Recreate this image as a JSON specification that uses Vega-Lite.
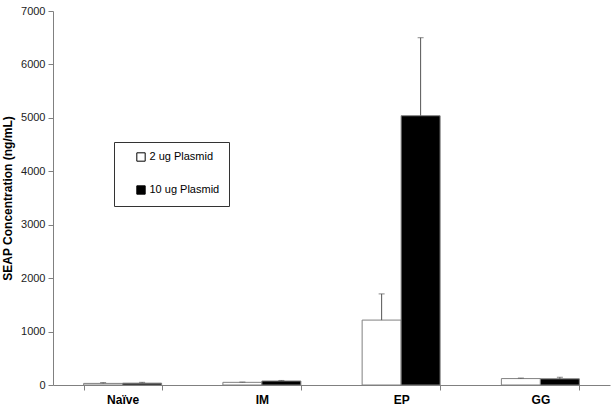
{
  "$schema": "https://vega.github.io/schema/vega-lite/v6.json",
  "autosize": "none",
  "padding": {"left": 53, "top": 11, "right": 4, "bottom": 27},
  "width": 557,
  "height": 374,
  "background": "white",
  "config": {
    "font": "Liberation Sans",
    "view": {"stroke": null},
    "axis": {"domainColor": "#808080", "tickColor": "#808080", "grid": false}
  },
  "data": {
    "values": [
      {"group": "Naïve", "dose": "2 ug Plasmid", "value": 30, "err": 15},
      {"group": "Naïve", "dose": "10 ug Plasmid", "value": 35, "err": 15},
      {"group": "IM", "dose": "2 ug Plasmid", "value": 50, "err": 5},
      {"group": "IM", "dose": "10 ug Plasmid", "value": 75, "err": 10},
      {"group": "EP", "dose": "2 ug Plasmid", "value": 1215, "err": 490},
      {"group": "EP", "dose": "10 ug Plasmid", "value": 5040, "err": 1460},
      {"group": "GG", "dose": "2 ug Plasmid", "value": 120, "err": 10},
      {"group": "GG", "dose": "10 ug Plasmid", "value": 115, "err": 30}
    ]
  },
  "transform": [{"calculate": "datum.value + datum.err", "as": "hi"}],
  "encoding": {
    "x": {
      "field": "group", "type": "nominal", "sort": ["Naïve", "IM", "EP", "GG"],
      "scale": {"paddingInner": 0.44, "paddingOuter": 0.22},
      "axis": {"title": null, "labelAngle": 0, "labelFontWeight": "bold", "labelFontSize": 12, "labelColor": "#000", "tickBand": "extent", "tickSize": 5, "labelPadding": 4}
    },
    "xOffset": {"field": "dose", "type": "nominal", "sort": ["2 ug Plasmid", "10 ug Plasmid"], "scale": {"paddingInner": 0, "paddingOuter": 0}}
  },
  "layer": [
    {
      "mark": {"type": "bar", "stroke": "#808080", "strokeWidth": 1},
      "encoding": {
        "y": {
          "field": "value", "type": "quantitative",
          "scale": {"domain": [0, 7000], "nice": false},
          "axis": {"title": "SEAP Concentration (ng/mL)", "titleFontWeight": "bold", "titleFontSize": 12, "titleColor": "#000", "titlePadding": 6, "values": [0, 1000, 2000, 3000, 4000, 5000, 6000, 7000], "format": "d", "labelFontSize": 11, "labelColor": "#222", "tickSize": 5, "labelPadding": 3}
        },
        "fill": {
          "field": "dose", "type": "nominal", "sort": ["2 ug Plasmid", "10 ug Plasmid"],
          "scale": {"range": ["#ffffff", "#000000"]},
          "legend": {
            "title": null, "orient": "none", "legendX": 61, "legendY": 131,
            "strokeColor": "#333", "padding": 9.5, "rowPadding": 20,
            "symbolType": "square", "symbolSize": 70, "symbolStrokeColor": "#000", "symbolStrokeWidth": 1,
            "symbolOffset": 12, "labelFontSize": 11, "labelColor": "#000", "labelOffset": 3, "fillColor": "white"
          }
        }
      }
    },
    {
      "mark": {"type": "rule", "color": "#555", "strokeWidth": 1},
      "encoding": {
        "y": {"field": "value", "type": "quantitative"},
        "y2": {"field": "hi"}
      }
    },
    {
      "mark": {"type": "tick", "color": "#555", "thickness": 1, "size": 6},
      "encoding": {
        "y": {"field": "hi", "type": "quantitative"}
      }
    }
  ]
}
